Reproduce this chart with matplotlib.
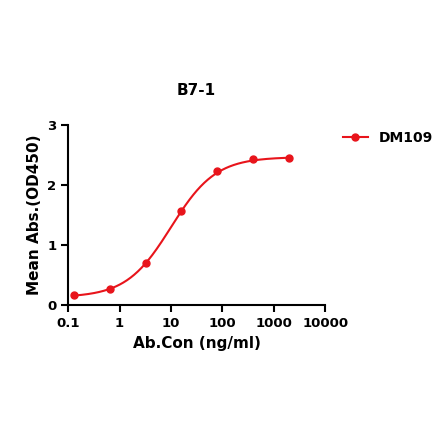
import numpy as np
import matplotlib.pyplot as plt

conc = [0.128, 0.64, 3.2, 16, 80, 400, 2000]
absorb = [0.17, 0.27, 0.70, 1.57, 2.24, 2.44, 2.45]
# estimated 4PL fit parameters
bottom, top, ec50, hill = 0.13, 2.47, 10.0, 1.0

fig = plt.figure(figsize=(4.4, 4.41), dpi=100)
ax = fig.add_axes([0.155, 0.308, 0.584, 0.408])

xs = np.logspace(np.log10(0.128), np.log10(2000), 300)
ys = bottom + (top - bottom) / (1 + (ec50 / xs) ** hill)
ax.plot(xs, ys, color='#e8141b', lw=1.5)
ax.plot(conc, absorb, 'o', color='#e8141b', ms=5)
ax.plot([], [], '-o', color='#e8141b', ms=5, lw=1.5, label='DM109')

ax.set_xscale('log')
ax.set_xlim(0.1, 10000)
ax.set_ylim(0, 3)
ax.set_yticks([0, 1, 2, 3])
ax.set_xticks([0.1, 1, 10, 100, 1000, 10000])
ax.set_xticklabels(['0.1', '1', '10', '100', '1000', '10000'])
ax.xaxis.set_minor_locator(plt.NullLocator())
for s in ['top', 'right']:
    ax.spines[s].set_visible(False)
for s in ['left', 'bottom']:
    ax.spines[s].set_linewidth(1.5)
ax.tick_params(axis='both', which='major', width=1.5, length=5, labelsize=9.5)
for lab in ax.get_xticklabels() + ax.get_yticklabels():
    lab.set_fontweight('bold')

ax.set_title('B7-1', fontsize=11, fontweight='bold', pad=22)
ax.set_xlabel('Ab.Con (ng/ml)', fontsize=11, fontweight='bold')
ax.set_ylabel('Mean Abs.(OD450)', fontsize=11, fontweight='bold')
ax.legend(loc='upper left', bbox_to_anchor=(1.02, 1.04), frameon=False,
          prop={'weight': 'bold', 'size': 10}, handlelength=1.8)

plt.savefig('out.png')
